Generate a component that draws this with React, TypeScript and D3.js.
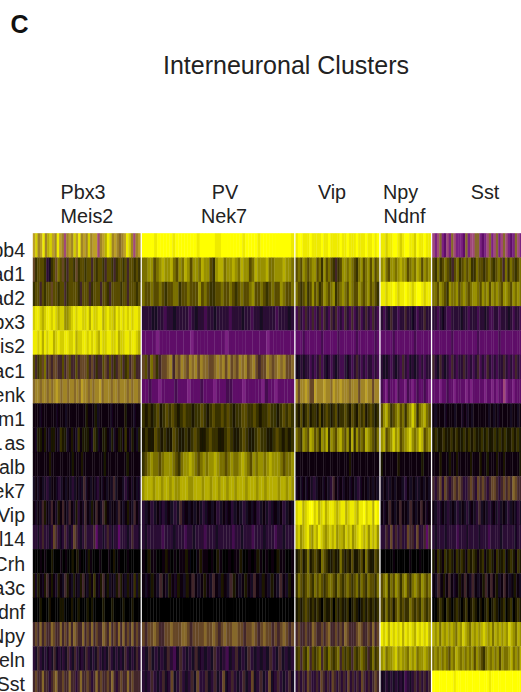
import React from "react";
import * as d3 from "d3";

const genes = ["Erbb4","Gad1","Gad2","Pbx3","Meis2","Tac1","Penk","Tiam1","Dlx1 as","Pvalb","Nek7","Vip","Cxcl14","Crh","Sema3c","Ndnf","Npy","Reln","Sst"];
const clusterNames = ["Pbx3/Meis2","PV/Nek7","Vip","Npy/Ndnf","Sst"];
const clusterLabels = [["Pbx3","Meis2"],["PV","Nek7"],["Vip"],["Npy","Ndnf"],["Sst"]];
const clusterSizes = [107.5, 152, 83.5, 50, 92];
const labelCenters = [[83, 87], [225, 224], [332], [400.5, 404.5], [485]];

// expression level per cell, one letter per stripe; letters are levels of the colour key below
const levelKeys = ".abcdefghijkloqrstuvwy".split("");
const levelColors = ["#000000","#0a000c","#180720","#2c0a34","#440b50","#5e1068","#7a2080","#a04a78","#42262c","#664628","#86682a","#a08428","#bca028","#1a1800","#383000","#584c06","#7a7000","#989000","#b6ae00","#d4ce00","#eeea00","#ffff00"];

const pbxMeis = [
"lvklwkuvlkwlkgklkvlwklkvkllgkluwvklkjklwvkgkl",
"iqrrrqcbqrisriqhrrqiqrrqrrhrqrrqhrrqhqrrqrhrrqrq",
"qrrhrqrrirrqrrhqrrrrqhrrrhqrrrhrrqhrrrrqrrhrrrqr",
"vwwvuvwwvwvuvvttuvwvwwvvwuwvvwwuvwvvuwvwvwvwvwwv",
"wwvwuwvwwuvwvvwwvvwuvvwwvwvwvuwvvwwvvwuvvwwvwwvu",
"rhqrishihiihhrhirhhrhiiirhihqhhrihrhqhirhqrhirhh",
"jkkjkkjkjklkjkkjkkjkjlkkjkjkkljkkkjkkjkkkjkjkkj",
"aaabaaaaaabaaabaaaaaaaaoaaaobaaaaabaaaaaoaaabaa",
"abooaoabooabqoobaoabqaoooabqobaooabobaooaqaboabo",
"aaaaaaaoaaaaaaaaaoaaaoaaaaaaaaaoaaaaaaaaaoaaaaa",
"bababbcbaabcbababcbabbhbababcabababhbaabcbababb",
"ababhoabhaboahabhabocabhaboahabhoabaabhabaoabhab",
"ccbchccbcihcbchcbcihcbchcccheccbchcbccecccbchccb",
"...a.a..o...a.a..o.oa..aoa...a...a.o.a...a.....",
"oboabohaoaboabhoaboabohaboaqabohaobabohoaboabqbo",
"...o...o....oo...o..o...o.o....o...o....o...o...",
"hihjhihhjihhjhihjhjihhjhihjhihhjihjhihjhjhihjhih",
"cbhcbcbcbhbcbcbhcbhcbcbhcbcbhcbcbhcbcbcbhcbcbhc",
"hihhjhhchijhhihhjhhchjhhihchjhihhihjhchihhjhihhh",
];
const pvNek = [
"yyyywyyyyywyyyyyyywyyyyywwyyyyyyywyyyywyyyyyyyyyyw",
"ssttrstuttusrtsutrttsuttrqtuusttutsuttrsutttusstttutts",
"srrsrrsrqrrssqrrsrrrtrsrqqrrsrrsrqrsrrstrrsrqrsrrtsrrs",
"cccbbccdccbccccdcbccdccbccccdcccbccdccbccccdcccbc",
"eeeefeeeeeeeeefeeeeeeeeefeeeeeeeeeeefeeeeeee",
"irhsiqhiijkhjikjikjkikjjiijkjkikijikjkijkihiikjijkjkiij",
"eedeefeeeedeeefeeedeeefeeeddeeefeeeeefdeefeeeee",
"qoqoqroqrqrqoqrqqoqqrqoqrqqrqrqoqqrrqqrqoqqrqqoqrqrq",
"oqoorqoqoorqooqoqrqooqrqqooqrqooqrqooqrqqooqrqoqoq",
"qrstssrstttsrqsttutsrststtutssrstsstutsrtsttstutttsrsst",
"tuuutuutuututtuuuttuuutuutuutuutuutuuutuuutuutuuuutuutut",
"cbacbabcbabcbhbabababcbabacbabacbabcbabacbabcbabacbab",
"cbcccccdcccbcccdccbcccdcccbcccccdccbcccdcccbcccdccbccc",
"a.oaa..aoa.a.aaoa..aoaa.a.oa..a.aao..a.aoa.a.a.oaa..a",
"abaoabhaboaboaboahabaoabhaboabhoabaoabhaboaboabhaboa",
".....................................................",
"ihiijihhiijiiijjihiiiijiijihijiijjiihiijihijiihihijihi",
"cbhbcbcbhcdbhcbcbhbcbcbhcbcdbchbcbhcbcbcbhcbhbcbc",
"cbchcbchbcibchcbchbicchbchbcibchcbchbcibchbcibchcbchb",
];
const vip = [
"wyywwwywwwwywwywwwwywwywwwywwwywwywy",
"rsrtsrsttrsqtrsrqhqrttstsrqstrstrtrs",
"srqrsqrtrsqrtsrstqrstsrtsrrtsrstrsrq",
"dhcdhcdhdchdhcdhchdcdhcdhdchdchcdhcd",
"eeedeeeeeeedeeeeeedeeeeeeedeeeeeeede",
"bbcbccdcdchdcbcdcbcddcbcdchcdcdccdcd",
"kikklkiilkkklkkjlkklkkkjkkkikklkkikk",
"qoroqroqqoroqrqoqroqqrqorqorqroqrqoq",
"srqtsrutrsqtsuqtsrtusrtquqtrsrutsrqs",
"aaaaaaaaaaaaaaaaaaaaaaaoaaaaaaaaaaaa",
"babababcbaababchababaababcbaababab",
"vwwuvwyyvwuvwuvwwvuvwwuvwwvuwwyvwwuyw",
"uvtuvwutvuwvutuvuvtuutvuvtuvwvuvtvuvt",
"oqroqsoqrqosrqooqoosqoqorooqrosqoorq",
"qsrqrsrqsrsrqrssrqsrqrsrqrsqsrqsrrqs",
"oqoqrqoqoqo.qooq.qoqooq.oqo.oqoqoqoq",
"hihhihhjihhihijhhihihjihhhijihhihjhi",
"qrhrqshrqrshrqsrqrshrqrqhrqrsrqhqsqr",
"chchcihcchcihchcihchchcichchcihchchih",
];
const npyNdnf = [
"wwvwwyywvwyywwvywwyww",
"tusrttstuttrstsutrtst",
"wwvwwywvwwywwvwyywvww",
"cdcbhccdcchccbcdcchcc",
"eeeeedeeeeeeeedeeeeee",
"cbbcdcbcdhcdbcbcdcdcc",
"defdeefdeefdefedeedef",
"rtusqrstrsqstvtqstusr",
"turstvturstuvtstvurst",
"oaaaaaaoaaaaaaaaaoaaa",
"babbabaabcababbabab",
"abahabahaabhabahaba",
"cchcichchccihhciccheh",
".....a......a...a....",
"rstqsrtsqstrqstsrtsrs",
"rqsqrorsqrqqsrqrqsrqr",
"wvwuwvwvwuwvwvuwvwvwu",
"tusttuvtuttsutusttuts",
"bbcbcbcbcbdcbchchchch",
];
const sst = [
"gfgjfegfjgfffejfggjjfefgjfgjfgjgfefjgfg",
"rqsqrsrqhrsqrsrsqqsrrqrsrqrsrhsqsrqrsr",
"ssrtsrqtsstrstsrsttsrtstrtstsrttsrtstst",
"ccdcbcddccccbccdcccdccbcddccdcccbcdccdc",
"eeeeeeeedeeeeeeeeeedeeeeeeeedeeeeeeeeee",
"hcbhcbcdhcdcchcdcdchdcdhcdcdcchcdcdhcdc",
"eeefeedeefeeeefefeeeeefeefefeegfeefeeee",
"abaaabaaabaabababaaaaaabababaaaabaabaa",
"oqooqooqoqooqoqoqooqoqooqoqoqooqoqoq",
"aaaoaaaoaaoaaaaaoaaaoaaoaaaoaaoaaaaaaoa",
"hchicihchihihcchihcihihchiihchihihjihhi",
"abcbabcbabcbabcbabchbabcbabcbabcbabcba",
"cbcccbccccdcccbccccbcccdccccbcccccbccc",
"oaqoaqoqoaqoqoaqoqoaoqaoqoaqooqaoqoaqoa",
"abhaoahabaoahabhabaohahaobahabaoabh",
"..oqo.qo.oqo.oq.oqo.o.oq.oqo.oq.oq.oqo.",
"utusutututsutvutsututuvutusutututvutsutu",
"stststsrtsutstststrtsrqstststrtsstustsut",
"yyyyyyyyywyyyyyyyyyyyyyywyyyyyyyyyyyyyy",
];
const clusterCells = [pbxMeis, pvNek, vip, npyNdnf, sst];

const W = 521, H = 692;
const left = 32.8, top = 233.2, rowH = 24.3, gap = 1.6;
const sans = "'Liberation Sans', Arial, sans-serif";

export default function App() {
  const color = d3.scaleOrdinal<string, string>().domain(levelKeys).range(levelColors);
  const y = d3.scaleBand<string>().domain(genes).range([top, top + rowH * genes.length]);
  const ends = d3.cumsum(clusterSizes.map((s) => s + gap));
  const starts = ends.map((e, i) => left + e - clusterSizes[i] - gap);
  return (
    <svg width={W} height={H} style={{ position: "absolute", left: 0, top: 0, background: "#fff" }} fontFamily={sans}>
      <defs>
        <filter id="soft" x="-2%" y="-2%" width="104%" height="104%">
          <feGaussianBlur stdDeviation="0.55 0.5" />
        </filter>
      </defs>
      <text x={10.5} y={33} fontSize={25} fontWeight="bold" fill="#111">C</text>
      <text x={286} y={74} fontSize={25} textAnchor="middle" fill="#222">Interneuronal Clusters</text>
      {clusterNames.map((name, c) => (
        <g key={name} fontSize={19.8} fill="#222" textAnchor="middle">
          {clusterLabels[c].map((t, i) => (
            <text key={t} x={labelCenters[c][i]} y={199 + 24 * i}>{t}</text>
          ))}
        </g>
      ))}
      <g filter="url(#soft)">
        {clusterCells.map((rows, c) => {
          const x0 = starts[c];
          return rows.map((row, r) => {
            const cells = row.split("");
            const x = d3.scaleBand<number>().domain(d3.range(cells.length)).range([x0, x0 + clusterSizes[c]]);
            return cells.map((v, k) => (
              <rect key={`${c}-${r}-${k}`} x={x(k)} y={y(genes[r])} width={x.bandwidth() + 0.3} height={y.bandwidth() + 0.3} fill={color(v)} />
            ));
          });
        })}
      </g>
      {starts.slice(1).map((s) => (
        <line key={s} x1={s - gap / 2} x2={s - gap / 2} y1={top - 1} y2={H} stroke="#ffffff" strokeWidth={2} />
      ))}
      {genes.map((g, i) => (
        <text key={g} x={25} y={257 + 24.12 * i} fontSize={19.5} textAnchor="end" fill="#222" wordSpacing={-3.5}>{g}</text>
      ))}
    </svg>
  );
}
